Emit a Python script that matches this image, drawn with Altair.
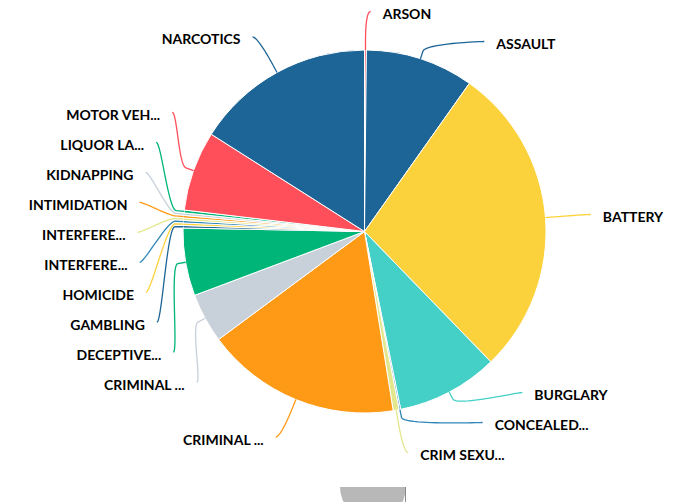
import numpy as np
import pandas as pd
import altair as alt

# ---------------- data ----------------
crimes = [
    "ARSON", "ASSAULT", "BATTERY", "BURGLARY",
    "CONCEALED CARRY LICENSE VIOLATION", "CRIM SEXUAL ASSAULT",
    "CRIMINAL DAMAGE", "CRIMINAL TRESPASS", "DECEPTIVE PRACTICE",
    "GAMBLING", "HOMICIDE", "INTERFERENCE WITH PUBLIC OFFICER",
    "INTERFERE WITH PUBLIC OFFICER", "INTIMIDATION", "KIDNAPPING",
    "LIQUOR LAW VIOLATION", "MOTOR VEHICLE THEFT", "NARCOTICS",
]
counts = [6, 347, 1006, 326, 5, 19, 626, 159, 217, 8, 8, 8, 8, 8, 8, 9, 256, 576]
colors = [
    "#fe4f5b", "#1d6596", "#fcd23c", "#44d0c7", "#2f86b8", "#e2e68c",
    "#fe9a15", "#c8d0da", "#00b578", "#1d6596", "#fcd23c", "#2f86b8",
    "#e2e68c", "#fe9a15", "#c8d0da", "#00b578", "#fe4f5b", "#1d6596",
]

# ---------------- layout constants ----------------
W, H = 681, 502
CX, CY = 364.5, 231.5          # pie centre (pixels)
R = 181.5                      # pie radius
LABEL_DIST = 40.5              # label distance from pie edge
BREAK_OFF = 8.0                # connector break offset
PAD = 5.0
TEXT_GAP = 12.0
BOX = 30.0                     # label slot height
TOP, BOTTOM = 0.0, 471.0       # label area
TEXT_DY = 3.5


def short(name):
    return name if len(name) <= 12 else name[:9] + "..."


vals = np.array(counts, dtype=float)
frac = vals / vals.sum() * 2 * np.pi
ends = np.cumsum(frac)
starts = ends - frac
mids = (starts + ends) / 2
sx, sy = np.sin(mids), -np.cos(mids)
tx, ty = CX + R * sx, CY + R * sy
bx, by = CX + (R + BREAK_OFF) * sx, CY + (R + BREAK_OFF) * sy
nat_y = CY + (R + LABEL_DIST) * sy
is_right = mids < np.pi


def distribute(targets):
    order = sorted(range(len(targets)), key=lambda k: targets[k])
    boxes = [{"m": [k], "t": [targets[k]], "size": BOX} for k in order]
    while True:
        for b in boxes:
            t = (min(b["t"]) + max(b["t"])) / 2
            b["pos"] = min(max(t - b["size"] / 2, TOP), BOTTOM - b["size"])
        merged = False
        i = len(boxes) - 1
        while i > 0:
            if boxes[i - 1]["pos"] + boxes[i - 1]["size"] > boxes[i]["pos"] + 1e-9:
                boxes[i - 1]["m"] += boxes[i]["m"]
                boxes[i - 1]["t"] += boxes[i]["t"]
                boxes[i - 1]["size"] += boxes[i]["size"]
                if boxes[i - 1]["pos"] + boxes[i - 1]["size"] > BOTTOM:
                    boxes[i - 1]["pos"] = BOTTOM - boxes[i - 1]["size"]
                del boxes[i]
                merged = True
            i -= 1
        if not merged:
            break
    out = {}
    for b in boxes:
        for j, k in enumerate(b["m"]):
            out[k] = b["pos"] + BOX * (j + 0.5)
    return [out[k] for k in range(len(targets))]


centers = np.zeros(len(crimes))
for side in (True, False):
    idx = [i for i in range(len(crimes)) if is_right[i] == side]
    c = distribute([nat_y[i] + TEXT_DY for i in idx])
    for i, v in zip(idx, c):
        centers[i] = v


def get_x(y, right):
    ratio = np.clip((y - CY) / (R + LABEL_DIST), -1, 1)
    dx = np.cos(np.arcsin(ratio)) * (R + LABEL_DIST) + PAD
    return CX + dx if right else CX - dx


label_rows, line_rows = [], []
for i, name in enumerate(crimes):
    c = centers[i]
    ly = c - TEXT_DY
    near = (c - BOX / 2 < TOP + 2) or (c + BOX / 2 > BOTTOM - 2)
    lx = get_x(nat_y[i] if near else ly, is_right[i])
    d = -1 if is_right[i] else 1
    p0 = np.array([lx, ly])
    p1 = np.array([lx + 5 * d, ly])
    p2 = np.array([2 * bx[i] - tx[i], 2 * by[i] - ty[i]])
    p3 = np.array([bx[i], by[i]])
    ts = np.linspace(0, 1, 25)
    pts = [((1 - t) ** 3) * p0 + 3 * ((1 - t) ** 2) * t * p1 + 3 * (1 - t) * t * t * p2 + t ** 3 * p3 for t in ts]
    pts.append(np.array([tx[i], ty[i]]))
    for s, p in enumerate(pts):
        line_rows.append({"crime": name, "seq": s, "x": p[0] - CX, "y": p[1] - CY})
    label_rows.append({
        "crime": name, "label": short(name),
        "x": (lx + (TEXT_GAP if is_right[i] else -TEXT_GAP)) - CX,
        "y": c - CY, "right": bool(is_right[i]),
    })

pie_df = pd.DataFrame({"crime": crimes, "count": counts, "idx": range(len(crimes))})
lines_df = pd.DataFrame(line_rows)
labels_df = pd.DataFrame(label_rows)

xs = alt.Scale(domain=[-CX, W - CX], range=[0, W], nice=False, zero=False)
ys = alt.Scale(domain=[-CY, H - CY], range=[0, H], nice=False, zero=False)
cs = alt.Scale(domain=crimes, range=colors)

pie = alt.Chart(pie_df).mark_arc(outerRadius=R, stroke="white", strokeWidth=1).encode(
    theta=alt.Theta("count:Q", stack=True),
    color=alt.Color("crime:N", scale=cs, legend=None),
    order=alt.Order("idx:Q"),
    x=alt.XDatum(0, scale=xs, axis=None),
    y=alt.YDatum(0, scale=ys, axis=None),
)

connectors = alt.Chart(lines_df).mark_line(strokeWidth=1.3).encode(
    x=alt.X("x:Q", scale=xs, axis=None),
    y=alt.Y("y:Q", scale=ys, axis=None),
    detail="crime:N",
    order="seq:Q",
    color=alt.Color("crime:N", scale=cs, legend=None),
)

def text_layer(right, align):
    base = alt.Chart(labels_df).transform_filter(
        alt.datum.right if right else ~alt.datum.right
    )
    enc = dict(
        x=alt.X("x:Q", scale=xs, axis=None),
        y=alt.Y("y:Q", scale=ys, axis=None),
        text="label:N",
    )
    halo = base.mark_text(align=align, baseline="middle", font="Lato", fontSize=14,
                          fontWeight="bold", stroke="white", strokeWidth=2,
                          fill="white").encode(**enc)
    txt = base.mark_text(align=align, baseline="middle", font="Lato", fontSize=14,
                         fontWeight="bold", fill="#000000").encode(**enc)
    return [halo, txt]

# small decorative element at the bottom of the reference
deco_df = pd.DataFrame({"x": [373 - CX], "y": [487 - CY]})
deco = alt.Chart(deco_df).mark_arc(
    theta=np.pi / 2, theta2=3 * np.pi / 2, outerRadius=33, fill="#b8b8b8"
).encode(x=alt.X("x:Q", scale=xs, axis=None), y=alt.Y("y:Q", scale=ys, axis=None))
deco_line = alt.Chart(deco_df).mark_rule(color="#8a8a8a", strokeWidth=1).encode(
    x=alt.value(405.5), y=alt.value(487), y2=alt.value(502)
)

chart = alt.layer(
    pie, connectors, *text_layer(True, "left"), *text_layer(False, "right"), deco, deco_line
).properties(
    width=W, height=H, padding=0, autosize="none", background="white"
).configure_view(stroke=None)

chart.save("out.html", embed_options={"renderer": "svg", "actions": False})
